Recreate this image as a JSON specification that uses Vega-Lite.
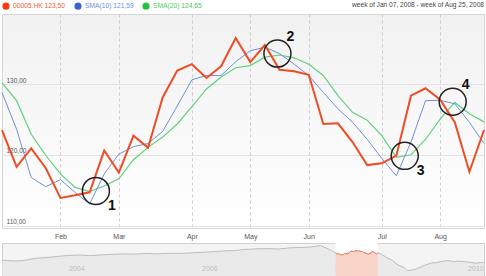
{
  "$schema": "https://vega.github.io/schema/vega-lite/v6.json",
  "padding": {"left": -3, "top": 1, "right": 2, "bottom": 0},
  "background": "white",
  "spacing": 2,
  "config": {
    "font": "Liberation Sans",
    "view": {"stroke": null},
    "axis": {"labelFont": "Liberation Sans", "labelColor": "#555555", "labelFontSize": 7, "ticks": false, "tickSize": 0, "domain": false}
  },
  "datasets": {
    "main": [
      {"date": "2008-01-07", "hk": 123.5, "sma10": 128.8, "sma20": 130.15},
      {"date": "2008-01-14", "hk": 118.3, "sma10": 123.6, "sma20": 127.65},
      {"date": "2008-01-21", "hk": 120.9, "sma10": 116.8, "sma20": 122.9},
      {"date": "2008-01-28", "hk": 118.1, "sma10": 115.5, "sma20": 119.9},
      {"date": "2008-02-04", "hk": 113.9, "sma10": 116.5, "sma20": 117.3},
      {"date": "2008-02-11", "hk": 114.3, "sma10": 114.7, "sma20": 115.4},
      {"date": "2008-02-18", "hk": 114.7, "sma10": 113.05, "sma20": 114.8},
      {"date": "2008-02-25", "hk": 120.6, "sma10": 117.3, "sma20": 115.6},
      {"date": "2008-03-03", "hk": 117.5, "sma10": 120.1, "sma20": 116.6},
      {"date": "2008-03-10", "hk": 122.7, "sma10": 121.15, "sma20": 119.3},
      {"date": "2008-03-17", "hk": 121.0, "sma10": 121.6, "sma20": 121.05},
      {"date": "2008-03-24", "hk": 128.1, "sma10": 123.3, "sma20": 122.5},
      {"date": "2008-03-31", "hk": 131.9, "sma10": 126.9, "sma20": 124.35},
      {"date": "2008-04-07", "hk": 132.8, "sma10": 130.6, "sma20": 126.8},
      {"date": "2008-04-14", "hk": 130.85, "sma10": 131.2, "sma20": 129.3},
      {"date": "2008-04-21", "hk": 132.5, "sma10": 131.2, "sma20": 131.0},
      {"date": "2008-04-28", "hk": 136.5, "sma10": 133.15, "sma20": 132.3},
      {"date": "2008-05-05", "hk": 133.1, "sma10": 134.7, "sma20": 132.6},
      {"date": "2008-05-12", "hk": 135.5, "sma10": 135.2, "sma20": 133.8},
      {"date": "2008-05-19", "hk": 132.0, "sma10": 134.3, "sma20": 134.1},
      {"date": "2008-05-26", "hk": 131.8, "sma10": 132.8, "sma20": 133.7},
      {"date": "2008-06-02", "hk": 131.3, "sma10": 131.2, "sma20": 132.8},
      {"date": "2008-06-09", "hk": 124.35, "sma10": 128.8, "sma20": 131.2},
      {"date": "2008-06-16", "hk": 124.45, "sma10": 126.5, "sma20": 128.35},
      {"date": "2008-06-23", "hk": 121.8, "sma10": 124.6, "sma20": 126.0},
      {"date": "2008-06-30", "hk": 118.55, "sma10": 122.2, "sma20": 124.9},
      {"date": "2008-07-07", "hk": 118.8, "sma10": 119.5, "sma20": 122.7},
      {"date": "2008-07-14", "hk": 119.9, "sma10": 117.05, "sma20": 119.65},
      {"date": "2008-07-21", "hk": 128.35, "sma10": 121.8, "sma20": 120.0},
      {"date": "2008-07-28", "hk": 129.4, "sma10": 127.65, "sma20": 122.2},
      {"date": "2008-08-04", "hk": 127.8, "sma10": 127.7, "sma20": 125.05},
      {"date": "2008-08-11", "hk": 124.6, "sma10": 127.2, "sma20": 127.4},
      {"date": "2008-08-18", "hk": 117.6, "sma10": 124.6, "sma20": 125.8},
      {"date": "2008-08-25", "hk": 123.5, "sma10": 121.59, "sma20": 124.65}
    ],
    "ann": [
      {"n": "1", "date": "2008-02-21", "value": 114.9},
      {"n": "2", "date": "2008-05-18", "value": 134.3},
      {"n": "3", "date": "2008-07-18", "value": 119.85},
      {"n": "4", "date": "2008-08-10", "value": 127.5}
    ],
    "nav": [
      {"date": "2003-01-01", "price": 87},
      {"date": "2003-03-15", "price": 82},
      {"date": "2003-05-01", "price": 85},
      {"date": "2003-07-01", "price": 96},
      {"date": "2003-09-01", "price": 100},
      {"date": "2003-11-01", "price": 106},
      {"date": "2004-01-01", "price": 111},
      {"date": "2004-03-01", "price": 113},
      {"date": "2004-05-01", "price": 110},
      {"date": "2004-07-01", "price": 114},
      {"date": "2004-09-01", "price": 117},
      {"date": "2004-11-01", "price": 119},
      {"date": "2005-01-01", "price": 118},
      {"date": "2005-03-01", "price": 121},
      {"date": "2005-05-01", "price": 119},
      {"date": "2005-07-01", "price": 122},
      {"date": "2005-09-01", "price": 121},
      {"date": "2005-11-01", "price": 124},
      {"date": "2006-01-01", "price": 127},
      {"date": "2006-03-01", "price": 130},
      {"date": "2006-05-01", "price": 134},
      {"date": "2006-07-01", "price": 136},
      {"date": "2006-09-01", "price": 142},
      {"date": "2006-11-01", "price": 145},
      {"date": "2007-01-01", "price": 146},
      {"date": "2007-03-01", "price": 144},
      {"date": "2007-05-01", "price": 150},
      {"date": "2007-07-01", "price": 152},
      {"date": "2007-09-01", "price": 155},
      {"date": "2007-10-15", "price": 162},
      {"date": "2007-11-15", "price": 150},
      {"date": "2007-12-15", "price": 137},
      {"date": "2008-01-07", "price": 123.5},
      {"date": "2008-01-14", "price": 118.3},
      {"date": "2008-01-21", "price": 120.9},
      {"date": "2008-01-28", "price": 118.1},
      {"date": "2008-02-04", "price": 113.9},
      {"date": "2008-02-11", "price": 114.3},
      {"date": "2008-02-18", "price": 114.7},
      {"date": "2008-02-25", "price": 120.6},
      {"date": "2008-03-03", "price": 117.5},
      {"date": "2008-03-10", "price": 122.7},
      {"date": "2008-03-17", "price": 121.0},
      {"date": "2008-03-24", "price": 128.1},
      {"date": "2008-03-31", "price": 131.9},
      {"date": "2008-04-07", "price": 132.8},
      {"date": "2008-04-14", "price": 130.85},
      {"date": "2008-04-21", "price": 132.5},
      {"date": "2008-04-28", "price": 136.5},
      {"date": "2008-05-05", "price": 133.1},
      {"date": "2008-05-12", "price": 135.5},
      {"date": "2008-05-19", "price": 132.0},
      {"date": "2008-05-26", "price": 131.8},
      {"date": "2008-06-02", "price": 131.3},
      {"date": "2008-06-09", "price": 124.35},
      {"date": "2008-06-16", "price": 124.45},
      {"date": "2008-06-23", "price": 121.8},
      {"date": "2008-06-30", "price": 118.55},
      {"date": "2008-07-07", "price": 118.8},
      {"date": "2008-07-14", "price": 119.9},
      {"date": "2008-07-21", "price": 128.35},
      {"date": "2008-07-28", "price": 129.4},
      {"date": "2008-08-04", "price": 127.8},
      {"date": "2008-08-11", "price": 124.6},
      {"date": "2008-08-18", "price": 117.6},
      {"date": "2008-08-25", "price": 123.5},
      {"date": "2008-09-15", "price": 118},
      {"date": "2008-10-15", "price": 99},
      {"date": "2008-11-15", "price": 85},
      {"date": "2008-12-15", "price": 62},
      {"date": "2009-01-15", "price": 50},
      {"date": "2009-02-05", "price": 33},
      {"date": "2009-03-01", "price": 36},
      {"date": "2009-03-20", "price": 40},
      {"date": "2009-04-15", "price": 50},
      {"date": "2009-05-15", "price": 62},
      {"date": "2009-06-15", "price": 72},
      {"date": "2009-07-15", "price": 74},
      {"date": "2009-08-15", "price": 82},
      {"date": "2009-09-15", "price": 84},
      {"date": "2009-10-15", "price": 80},
      {"date": "2009-11-15", "price": 82},
      {"date": "2009-12-15", "price": 79},
      {"date": "2010-01-15", "price": 76},
      {"date": "2010-02-15", "price": 71},
      {"date": "2010-03-15", "price": 74},
      {"date": "2010-04-01", "price": 75}
    ]
  },
  "vconcat": [
    {
      "width": 482,
      "height": 214,
      "view": {
        "fill": {"gradient": "linear", "x1": 0, "y1": 0, "x2": 0, "y2": 1, "stops": [{"offset": 0, "color": "#f1f1f1"}, {"offset": 1, "color": "#ffffff"}]},
        "stroke": "#d6d6d6"
      },
      "title": {"text": "week of Jan 07, 2008 - week of Aug 25, 2008", "anchor": "end", "frame": "group", "fontSize": 6.6, "fontWeight": "normal", "color": "#444444", "offset": 5, "font": "Liberation Sans"},
      "data": {"name": "main"},
      "encoding": {
        "x": {
          "field": "date", "type": "temporal", "title": null,
          "scale": {"type": "utc", "nice": false, "domain": [{"year": 2008, "month": 1, "date": 7, "utc": true}, {"year": 2008, "month": 8, "date": 25, "utc": true}]},
          "axis": {
            "values": [
              {"year": 2008, "month": 2, "date": 4, "utc": true},
              {"year": 2008, "month": 3, "date": 3, "utc": true},
              {"year": 2008, "month": 4, "date": 7, "utc": true},
              {"year": 2008, "month": 5, "date": 5, "utc": true},
              {"year": 2008, "month": 6, "date": 2, "utc": true},
              {"year": 2008, "month": 7, "date": 7, "utc": true},
              {"year": 2008, "month": 8, "date": 4, "utc": true}
            ],
            "labelExpr": "utcFormat(datum.value, '%b')", "grid": true, "gridColor": "#cccccc", "gridDash": [3, 3], "labelPadding": 4
          }
        }
      },
      "layer": [
        {
          "mark": {"type": "line", "strokeWidth": 1.2},
          "encoding": {
            "y": {
              "field": "sma20", "type": "quantitative", "title": null,
              "scale": {"domain": [109.66, 139.89], "nice": false, "zero": false},
              "axis": {"values": [110, 120, 130], "grid": true, "gridColor": "#e2e2e2", "labelAlign": "left", "labelPadding": -4, "labelBaseline": "alphabetic", "labelOffset": -2, "labelFontSize": 6.5, "labelExpr": "replace(format(datum.value, '.2f'), '.', ',')"}
            },
            "color": {
              "datum": "SMA(20)",
              "scale": {"domain": ["00005.HK", "SMA(10)", "SMA(20)"], "range": ["#ef4c25", "#7090dc", "#62d07c"]},
              "legend": {
                "orient": "none", "legendX": 0, "legendY": -12, "direction": "horizontal", "title": null,
                "symbolType": "circle", "symbolSize": 50, "symbolStrokeWidth": 0, "labelFontSize": 6.7, "labelOffset": 3, "columnPadding": 8, "padding": 0,
                "labelFont": "Liberation Sans",
                "labelExpr": "datum.label === '00005.HK' ? '00005.HK 123,50' : datum.label === 'SMA(10)' ? 'SMA(10) 121,59' : 'SMA(20) 124,65'",
                "encode": {
                  "symbols": {"update": {"fill": {"signal": "datum.value === '00005.HK' ? '#ff3a12' : datum.value === 'SMA(10)' ? '#3862d2' : '#22c33c'"}, "fillOpacity": {"value": 1}, "strokeWidth": {"value": 0}}},
                  "labels": {"update": {"fill": {"signal": "datum.value === '00005.HK' ? '#f25a38' : datum.value === 'SMA(10)' ? '#6e8ee2' : '#4cc95e'"}}}
                }
              }
            }
          }
        },
        {
          "mark": {"type": "line", "strokeWidth": 1},
          "encoding": {
            "y": {"field": "sma10", "type": "quantitative", "title": null, "scale": {"domain": [109.66, 139.89], "nice": false, "zero": false}},
            "color": {"datum": "SMA(10)"}
          }
        },
        {
          "mark": {"type": "line", "strokeWidth": 2},
          "encoding": {
            "y": {"field": "hk", "type": "quantitative", "title": null, "scale": {"domain": [109.66, 139.89], "nice": false, "zero": false}},
            "color": {"datum": "00005.HK"}
          }
        },
        {
          "data": {"name": "ann"},
          "mark": {"type": "point", "shape": "circle", "size": 729, "filled": false, "stroke": "#222222", "strokeWidth": 1.5, "opacity": 1},
          "encoding": {
            "y": {"field": "value", "type": "quantitative", "title": null, "scale": {"domain": [109.66, 139.89], "nice": false, "zero": false}}
          }
        },
        {
          "data": {"name": "ann"},
          "transform": [{"filter": "datum.n === '1' || datum.n === '3'"}],
          "mark": {"type": "text", "dx": 16, "dy": 15, "fontSize": 14, "fontWeight": "bold", "color": "#111111", "font": "Liberation Sans"},
          "encoding": {
            "y": {"field": "value", "type": "quantitative", "title": null, "scale": {"domain": [109.66, 139.89], "nice": false, "zero": false}},
            "text": {"field": "n"}
          }
        },
        {
          "data": {"name": "ann"},
          "transform": [{"filter": "datum.n === '2' || datum.n === '4'"}],
          "mark": {"type": "text", "dx": 13, "dy": -17, "fontSize": 14, "fontWeight": "bold", "color": "#111111", "font": "Liberation Sans"},
          "encoding": {
            "y": {"field": "value", "type": "quantitative", "title": null, "scale": {"domain": [109.66, 139.89], "nice": false, "zero": false}},
            "text": {"field": "n"}
          }
        }
      ]
    },
    {
      "width": 482,
      "height": 34,
      "view": {"fill": "#f4f4f4", "stroke": "#d0d0d0"},
      "layer": [
        {
          "data": {"values": [{"start": "2008-01-07", "end": "2008-08-25"}]},
          "mark": {"type": "rect", "color": "#ffffff"},
          "encoding": {
            "x": {
              "field": "start", "type": "temporal", "title": null,
              "scale": {"type": "utc", "nice": false, "domain": [{"year": 2003, "month": 1, "date": 1, "utc": true}, {"year": 2010, "month": 4, "date": 1, "utc": true}]},
              "axis": {
                "values": [
                  {"year": 2004, "month": 1, "date": 1, "utc": true},
                  {"year": 2006, "month": 1, "date": 1, "utc": true},
                  {"year": 2008, "month": 1, "date": 1, "utc": true},
                  {"year": 2010, "month": 1, "date": 1, "utc": true}
                ],
                "labelExpr": "utcFormat(datum.value, '%Y')", "grid": false, "labelAlign": "left", "offset": -15, "labelPadding": 2, "labelFlush": false
              }
            },
            "x2": {"field": "end"}
          }
        },
        {
          "data": {"name": "nav"},
          "mark": {"type": "area", "color": "#e6e6e6", "line": {"color": "#bdbdbd", "strokeWidth": 1}},
          "encoding": {
            "x": {"field": "date", "type": "temporal", "title": null, "scale": {"type": "utc", "nice": false, "domain": [{"year": 2003, "month": 1, "date": 1, "utc": true}, {"year": 2010, "month": 4, "date": 1, "utc": true}]}},
            "y": {"field": "price", "type": "quantitative", "scale": {"domain": [0, 175], "nice": false}, "axis": null}
          }
        },
        {
          "data": {"name": "nav"},
          "transform": [{"filter": {"field": "date", "range": [{"year": 2008, "month": 1, "date": 7, "utc": true}, {"year": 2008, "month": 8, "date": 25, "utc": true}]}}],
          "mark": {"type": "area", "color": "#fcc8b6", "line": {"color": "#f07a5a", "strokeWidth": 1}},
          "encoding": {
            "x": {"field": "date", "type": "temporal", "title": null, "scale": {"type": "utc", "nice": false, "domain": [{"year": 2003, "month": 1, "date": 1, "utc": true}, {"year": 2010, "month": 4, "date": 1, "utc": true}]}},
            "y": {"field": "price", "type": "quantitative", "scale": {"domain": [0, 175], "nice": false}, "axis": null}
          }
        }
      ]
    }
  ]
}
